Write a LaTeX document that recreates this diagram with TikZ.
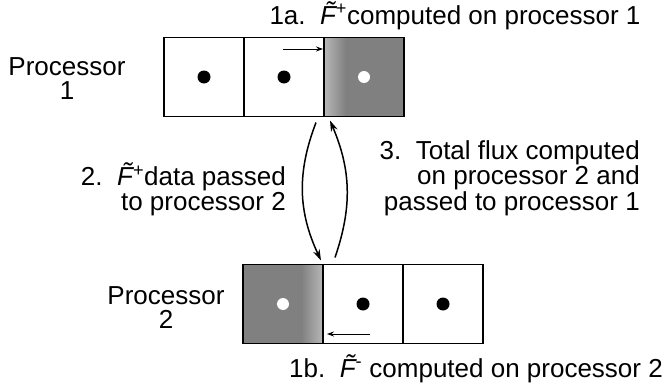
\documentclass[tikz,border=0pt]{standalone}
\usepackage{fontspec}
\setmainfont{Liberation Sans}
\usetikzlibrary{arrows.meta}
\newcommand{\tF}{{\itshape\~F\/}}
\begin{document}
\begin{tikzpicture}[x=1pt,y=-1pt,
  font=\fontsize{26}{23.5}\selectfont,
  cell/.style={draw, line width=1.5pt, minimum width=80pt, minimum height=79pt, inner sep=0pt, outer sep=0pt},
  label/.style={inner sep=0pt},
  dot/.style={fill=black},
  hole/.style={fill=white},
  smallarrow/.style={line width=1pt, -{Stealth[length=7pt,width=5pt]}},
  bigarrow/.style={line width=1.5pt, -{Stealth[length=11pt,width=7pt]}}]
\path[use as bounding box] (0,0) rectangle (662,388);

% processor 1 cells
\node[cell] (t1) at (204,77) {};
\node[cell] (t2) at (284,77) {};
\node[cell, fill=black!50] (t3) at (364,77) {};
\shade[left color=black!28, right color=black!50] (t3.north west) rectangle ([xshift=22pt]t3.south west);
\draw[line width=1.5pt] (t3.north west) rectangle (t3.south east);

% processor 2 cells
\node[cell, fill=black!50] (b1) at (283,304) {};
\shade[left color=black!50, right color=black!28] ([xshift=-22pt]b1.north east) rectangle (b1.south east);
\draw[line width=1.5pt] (b1.north west) rectangle (b1.south east);
\node[cell] (b2) at (363,304) {};
\node[cell] (b3) at (443,304) {};

% dots
\fill[dot] (t1) circle[radius=6.5pt];
\fill[dot] (t2) circle[radius=6.5pt];
\fill[hole] (t3) circle[radius=6pt];
\fill[hole] (b1) circle[radius=6pt];
\fill[dot] (b2) circle[radius=6.5pt];
\fill[dot] (b3) circle[radius=6.5pt];

% small flux arrows
\draw[smallarrow] ([xshift=-41pt,yshift=28pt]t3.west) -- ([xshift=-1pt,yshift=28pt]t3.west);
\draw[smallarrow] ([xshift=47pt,yshift=-30pt]b2.west) -- ([xshift=4pt,yshift=-30pt]b2.west);

% exchange arrows
\draw[bigarrow] ([xshift=-8pt,yshift=-6pt]t3.south west) to[bend right=23] ([xshift=-2pt,yshift=4pt]b1.north east);
\draw[bigarrow] ([xshift=12pt,yshift=7pt]b1.north east) to[bend right=21] ([xshift=6pt,yshift=-4pt]t3.south west);

% labels
\node[label, anchor=base] (l1a) at (455,24) {1a.\ \ \tF\textsuperscript{+}computed on processor 1};
\node[label, align=center, anchor=base] (p1) at (67,99) {Processor\\1};
\node[label, align=right, anchor=base east] (l2) at (286,210) {2.\ \ \tF\textsuperscript{+}data passed\\to processor 2};
\node[label, align=right, anchor=base east] (l3) at (640,210) {3.\ \ Total flux computed\\on processor 2 and\\passed to processor 1};
\node[label, align=center, anchor=base] (p2) at (166,328) {Processor\\2};
\node[label, anchor=base] (l1b) at (476,377) {1b.\ \ \tF\textsuperscript{-} computed on processor 2};
\end{tikzpicture}
\end{document}
